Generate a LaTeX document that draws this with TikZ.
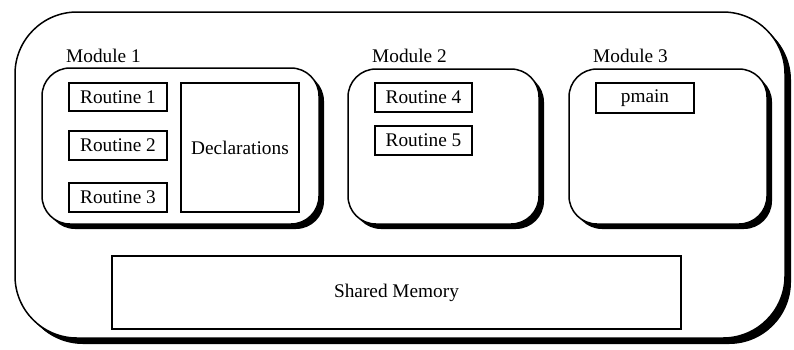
\documentclass[tikz,border=0pt]{standalone}
\usepackage{fontspec}
\setmainfont{Liberation Serif}
\usetikzlibrary{shadows}
\begin{document}
\begin{tikzpicture}[x=1pt,y=-1pt,
  shadowbox/.style={draw=black, fill=white, line width=1.5pt, inner sep=0pt,
    drop shadow={shadow xshift=5pt, shadow yshift=-5pt, fill=black, opacity=1}},
  outerbox/.style={shadowbox, rounded corners=62pt,
    drop shadow={shadow xshift=6pt, shadow yshift=-6pt, fill=black, opacity=1}},
  modbox/.style={shadowbox, rounded corners=28pt},
  rbox/.style={draw=black, fill=white, line width=1.2pt, inner sep=0pt,
    font=\fontsize{19.3}{21}\selectfont},
  lbl/.style={anchor=west, inner sep=0pt, font=\fontsize{19.3}{21}\selectfont}]
\useasboundingbox (0,0) rectangle (794,349);
\node[outerbox, minimum width=770pt, minimum height=326pt] (outer) at (400,175) {};
\node[modbox, minimum width=277pt, minimum height=156pt] (m1) at (180.5,146) {};
\node[modbox, minimum width=191pt, minimum height=155pt] (m2) at (443.5,146.5) {};
\node[modbox, minimum width=198pt, minimum height=155pt] (m3) at (668,146.5) {};
\node[lbl] (l1) at (66,56) {Module 1};
\node[lbl] (l2) at (372,56) {Module 2};
\node[lbl] (l3) at (593,56) {Module 3};
\node[rbox, minimum width=98pt, minimum height=28pt] (r1) at (118,97) {Routine 1};
\node[rbox, minimum width=98pt, minimum height=29pt] (r2) at (118,145.5) {Routine 2};
\node[rbox, minimum width=98pt, minimum height=29pt] (r3) at (118,197.5) {Routine 3};
\node[rbox, minimum width=118pt, minimum height=129pt] (decl) at (240,147.5) {Declarations};
\node[rbox, minimum width=97pt, minimum height=29pt] (r4) at (423.5,97.5) {Routine 4};
\node[rbox, minimum width=97pt, minimum height=29pt] (r5) at (423.5,140.5) {Routine 5};
\node[rbox, minimum width=98pt, minimum height=30pt] (pm) at (645,98) {pmain};
\node[rbox, minimum width=569pt, minimum height=73pt] (sm) at (396.5,292.5) {Shared Memory};
\end{tikzpicture}
\end{document}
